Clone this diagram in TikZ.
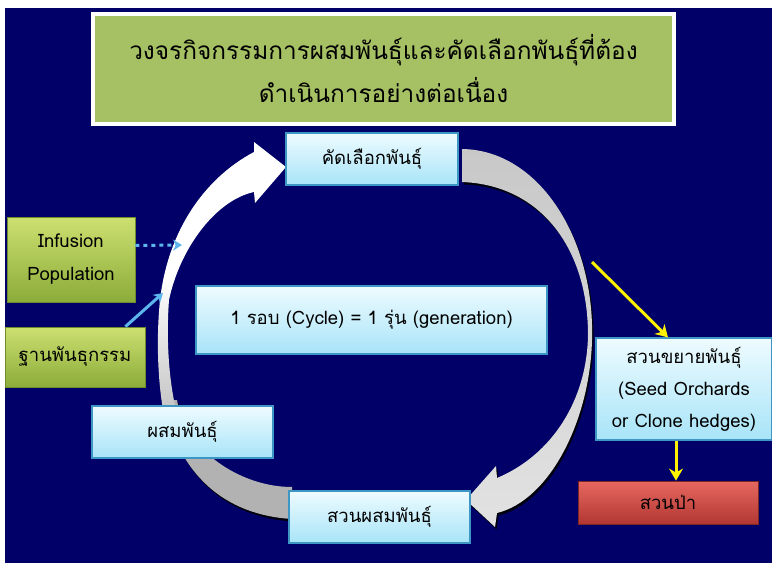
\documentclass[tikz,border=0pt]{standalone}
\usepackage{fontspec}
\newfontfamily\thaifont[Script=Thai]{Loma}
\usetikzlibrary{positioning,arrows.meta,shadows}
\definecolor{navy}{RGB}{0,0,104}
\definecolor{titlegreen}{RGB}{166,192,100}
\definecolor{boxtop}{RGB}{238,251,255}
\definecolor{boxbottom}{RGB}{168,228,248}
\definecolor{boxline}{RGB}{62,150,196}
\definecolor{limetop}{RGB}{204,224,112}
\definecolor{limebottom}{RGB}{140,172,58}
\definecolor{redtop}{RGB}{230,104,96}
\definecolor{redbottom}{RGB}{178,54,50}
\definecolor{skyline}{RGB}{92,182,236}
\definecolor{arctop}{RGB}{200,200,200}
\definecolor{arcbottom}{RGB}{226,226,226}
\tikzset{d/.style={line width=3pt}}

\begin{document}
\begin{tikzpicture}[x=1pt,y=-1pt,
box/.style={draw=boxline, line width=1.2pt, top color=boxtop, bottom color=boxbottom, align=center, inner sep=0pt, font=\thaifont\fontsize{18.5}{32}\selectfont},
lime/.style={draw=limebottom!80!black, line width=0.8pt, top color=limetop, bottom color=limebottom, align=center, inner sep=0pt, font=\thaifont\fontsize{18.5}{33}\selectfont},
shade/.style={drop shadow={shadow xshift=1.5pt, shadow yshift=-2.5pt, opacity=0.85, fill=black}},
]
\useasboundingbox (0,0) rectangle (772,563);
\fill[white] (0,0) rectangle (772,563);
\fill[navy] (5,8) rectangle (772,563);

% arcs of the cycle
\path[shade, top color=arctop, bottom color=arcbottom] (462,149) .. controls (540,150) and (595,240) .. (592,340) .. controls (590,420) and (550,500) .. (497,513) -- (495,527) -- (466,500) -- (496,466) -- (497,478) .. controls (552,455) and (587,400) .. (588,335) .. controls (588,250) and (542,185) .. (462,182) -- cycle;
\path[shade, fill=gray!60] (163,400) .. controls (178,475) and (225,515) .. (292,519) -- (292,487) .. controls (240,487) and (185,450) .. (177,400) -- cycle;
\path[top color=white, bottom color=gray!45, middle color=white] (163,410) .. controls (158,380) and (156,340) .. (160,300) .. controls (168,230) and (205,178) .. (254,152) -- (254,142) -- (286,167) -- (255,203) -- (254,192) .. controls (216,200) and (180,248) .. (169,300) .. controls (166,340) and (169,380) .. (176,410) -- cycle;

\node[draw=white, line width=4pt, fill=titlegreen, minimum width=581pt, minimum height=110pt, align=center, font=\thaifont\fontsize{24.4}{43}\selectfont] (title) at (383.5,69) {วงจรกิจกรรมการผสมพันธุ์และคัดเลือกพันธุ์ที่ต้อง\\ดำเนินการอย่างต่อเนื่อง};

\node[box, minimum width=172pt, minimum height=52pt] (select) at (372,159) {คัดเลือกพันธุ์};
\node[box, minimum width=351pt, minimum height=68pt] (cycle) at (371.5,320) {1 รอบ (Cycle) = 1 รุ่น (generation)};
\node[box, minimum width=181pt, minimum height=52pt] (cross) at (182.5,432) {ผสมพันธุ์};
\node[box, minimum width=181pt, minimum height=52pt] (garden) at (379.5,517) {สวนผสมพันธุ์};
\node[box, minimum width=176pt, minimum height=102pt] (orchard) at (684,389) {สวนขยายพันธุ์\\(Seed Orchards\\or Clone hedges)};
\node[lime, draw=redbottom!70!black, top color=redtop, bottom color=redbottom, minimum width=180pt, minimum height=43pt] (forest) at (668,502.5) {สวนป่า};
\node[lime, minimum width=128pt, minimum height=85pt] (infusion) at (71,259.5) {Infusion\\Population};
\node[lime, minimum width=140pt, minimum height=60pt] (base) at (75,357) {ฐานพันธุกรรม};

\coordinate (infuse) at (182,245);
\coordinate (basein) at (163,293);
\coordinate (branch) at (592,262);

\draw[d, skyline, dash pattern=on 4pt off 4pt, -{Stealth[length=9pt,width=11pt]}] ([yshift=14pt]infusion.east) -- (infuse);
\draw[d, skyline, -{Stealth[length=9pt,width=11pt]}] ([xshift=-20pt]base.north east) -- (basein);
\draw[d, yellow, -{Stealth[length=12pt,width=14pt]}] (branch) -- ([xshift=-16pt]orchard.north);
\draw[d, yellow, -{Stealth[length=12pt,width=14pt]}] ([xshift=-8pt]orchard.south) -- ([xshift=8pt]forest.north);
\end{tikzpicture}
\end{document}
